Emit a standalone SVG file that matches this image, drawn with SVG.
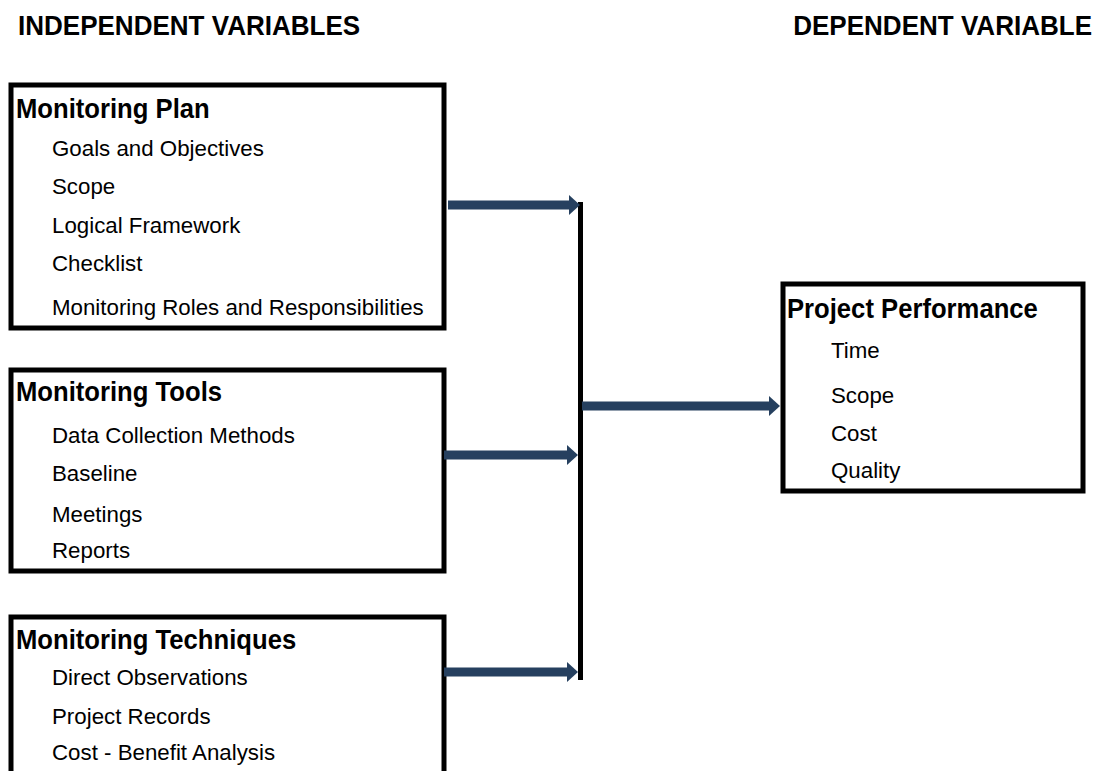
<svg xmlns="http://www.w3.org/2000/svg" width="1103" height="771" viewBox="0 0 1103 771">
<style>
text{font-family:"Liberation Sans",Arial,sans-serif;fill:#000}
.hdr{font-size:28px;font-weight:bold;transform-box:fill-box;transform-origin:0 0;transform:scaleX(0.93)}
.hdr-r{transform-origin:100% 0}
.ttl{font-size:27px;font-weight:bold;transform-box:fill-box;transform-origin:0 0;transform:scaleX(0.95)}
.itm{font-size:23px;transform-box:fill-box;transform-origin:0 0;transform:scaleX(0.97)}
.box{fill:#fff;stroke:#000;stroke-width:5}
.shaft{stroke:#26405F;stroke-width:9;fill:none}
.head{fill:#26405F}
.bar{stroke:#000;stroke-width:5;fill:none}
</style>
<rect width="1103" height="771" fill="#fff"/>
<g id="headers">
<text class="hdr" x="18" y="35">INDEPENDENT VARIABLES</text>
<text class="hdr hdr-r" x="1092" y="35" text-anchor="end">DEPENDENT VARIABLE</text>
</g>
<g id="monitoring-plan">
<rect class="box" x="11" y="85" width="433" height="243"/>
<text class="ttl" x="16" y="118">Monitoring Plan</text>
<text class="itm" x="52" y="156">Goals and Objectives</text>
<text class="itm" x="52" y="194">Scope</text>
<text class="itm" x="52" y="233">Logical Framework</text>
<text class="itm" x="52" y="271">Checklist</text>
<text class="itm" x="52" y="315">Monitoring Roles and Responsibilities</text>
</g>
<g id="monitoring-tools">
<rect class="box" x="11" y="370" width="433" height="201"/>
<text class="ttl" x="16" y="401">Monitoring Tools</text>
<text class="itm" x="52" y="443">Data Collection Methods</text>
<text class="itm" x="52" y="481">Baseline</text>
<text class="itm" x="52" y="522">Meetings</text>
<text class="itm" x="52" y="558">Reports</text>
</g>
<g id="monitoring-techniques">
<rect class="box" x="11" y="617" width="433" height="200"/>
<text class="ttl" x="16" y="649">Monitoring Techniques</text>
<text class="itm" x="52" y="685">Direct Observations</text>
<text class="itm" x="52" y="724">Project Records</text>
<text class="itm" x="52" y="760">Cost - Benefit Analysis</text>
</g>
<g id="project-performance">
<rect class="box" x="783" y="284" width="300" height="207"/>
<text class="ttl" x="787" y="318">Project Performance</text>
<text class="itm" x="831" y="358">Time</text>
<text class="itm" x="831" y="403">Scope</text>
<text class="itm" x="831" y="441">Cost</text>
<text class="itm" x="831" y="478">Quality</text>
</g>
<g id="connectors">
<line class="bar" x1="580.5" y1="202" x2="580.5" y2="680"/>
<line class="shaft" x1="448" y1="205" x2="570" y2="205"/>
<polygon class="head" points="569,195 580,205 569,215"/>
<line class="shaft" x1="444" y1="455" x2="568" y2="455"/>
<polygon class="head" points="567,445 578,455 567,465"/>
<line class="shaft" x1="444" y1="672" x2="568" y2="672"/>
<polygon class="head" points="567,662 578,672 567,682"/>
<line class="shaft" x1="582" y1="406" x2="770" y2="406"/>
<polygon class="head" points="769,396 780,406 769,416"/>
</g>
</svg>
